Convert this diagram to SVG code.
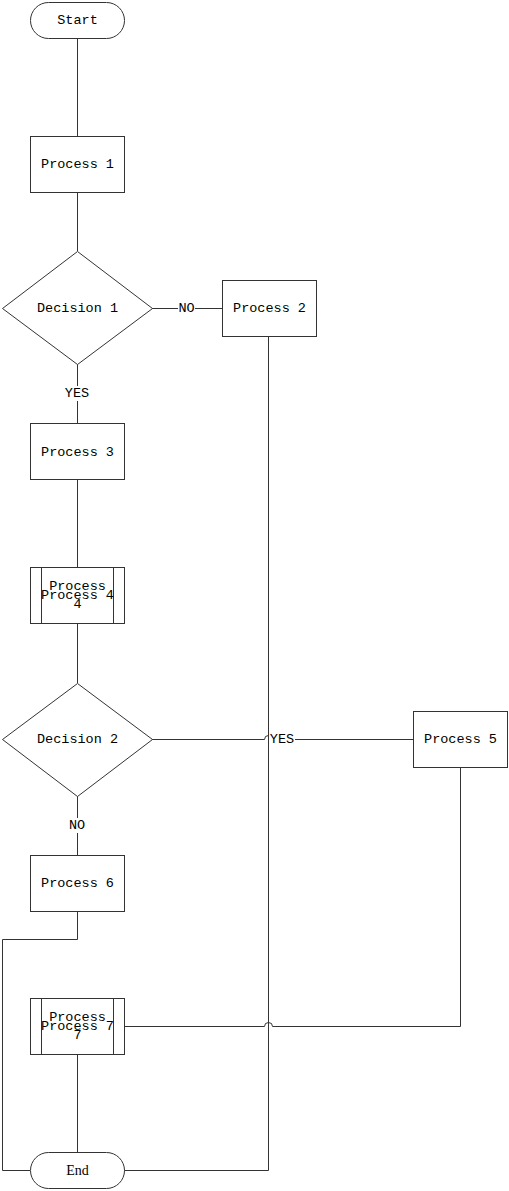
<svg xmlns="http://www.w3.org/2000/svg" width="509" height="1191" viewBox="0 0 509 1191">
  <style>
    .shape { fill: #ffffff; stroke: #333333; stroke-width: 1; }
    .edge { fill: none; stroke: #333333; stroke-width: 1; }
    .lbl { font-family: "Liberation Mono", "DejaVu Sans Mono", monospace; font-size: 13.5px; fill: #000000; text-anchor: middle; dominant-baseline: central; }
    .serif { font-family: "Liberation Serif", serif; font-size: 14px; }
    .bg { fill: #ffffff; stroke: none; }
  </style>
  <rect width="509" height="1191" fill="#ffffff"/>

  <!-- connectors -->
  <g id="connectors">
    <path class="edge" d="M77.5 38 V136"/>
    <path class="edge" d="M77.5 192 V251"/>
    <path class="edge" d="M152 308.5 H222"/>
    <path class="edge" d="M268.5 336 V1170.5 H124"/>
    <path class="edge" d="M77.5 364 V423"/>
    <path class="edge" d="M77.5 480 V567"/>
    <path class="edge" d="M77.5 623 V683"/>
    <path class="edge" d="M152 739.5 H264.5 A4 4 0 0 1 272.5 739.5 H413"/>
    <path class="edge" d="M460.5 767 V1026.5 H272.5 A4 4 0 0 0 264.5 1026.5 H124"/>
    <path class="edge" d="M77.5 796 V855"/>
    <path class="edge" d="M77.5 911 V939.5 H2.5 V1170.5 H30"/>
    <path class="edge" d="M77.5 1054 V1152"/>
    <!-- edge labels -->
    <rect class="bg" x="178" y="301" width="17" height="15"/>
    <text class="lbl" x="186.5" y="308.5">NO</text>
    <rect class="bg" x="64" y="386" width="26" height="15"/>
    <text class="lbl" x="77" y="393.5">YES</text>
    <rect class="bg" x="269" y="732" width="26" height="15"/>
    <text class="lbl" x="282" y="739.5">YES</text>
    <rect class="bg" x="68" y="818" width="17" height="15"/>
    <text class="lbl" x="77" y="825.5">NO</text>
  </g>

  <g id="start">
    <rect class="shape" x="30.5" y="2.5" width="94" height="36" rx="18" ry="18"/>
    <text class="lbl" x="77.5" y="20.5">Start</text>
  </g>

  <g id="process1">
    <rect class="shape" x="30.5" y="136.5" width="94" height="56"/>
    <text class="lbl" x="77.5" y="164.5">Process 1</text>
  </g>

  <g id="decision1">
    <polygon class="shape" points="77.5,251.5 152.5,308.5 77.5,364.5 2.5,308.5"/>
    <text class="lbl" x="77.5" y="308.5">Decision 1</text>
  </g>

  <g id="process2">
    <rect class="shape" x="222.5" y="280.5" width="94" height="56"/>
    <text class="lbl" x="269.5" y="308.5">Process 2</text>
  </g>

  <g id="process3">
    <rect class="shape" x="30.5" y="423.5" width="94" height="56"/>
    <text class="lbl" x="77.5" y="452">Process 3</text>
  </g>

  <g id="process4">
    <rect class="shape" x="30.5" y="567.5" width="94" height="56"/>
    <path class="edge" d="M41.5 567.5 V623.5 M113.5 567.5 V623.5"/>
    <text class="lbl" x="77.5" y="586">Process</text>
    <text class="lbl" x="77.5" y="604">4</text>
    <text class="lbl" x="77.5" y="595.5">Process 4</text>
  </g>

  <g id="decision2">
    <polygon class="shape" points="77.5,683.5 152.5,739.5 77.5,796.5 2.5,739.5"/>
    <text class="lbl" x="77.5" y="739.5">Decision 2</text>
  </g>

  <g id="process5">
    <rect class="shape" x="413.5" y="711.5" width="94" height="56"/>
    <text class="lbl" x="460.5" y="739.5">Process 5</text>
  </g>

  <g id="process6">
    <rect class="shape" x="30.5" y="855.5" width="94" height="56"/>
    <text class="lbl" x="77.5" y="883.5">Process 6</text>
  </g>

  <g id="process7">
    <rect class="shape" x="30.5" y="998.5" width="94" height="56"/>
    <path class="edge" d="M41.5 998.5 V1054.5 M113.5 998.5 V1054.5"/>
    <text class="lbl" x="77.5" y="1017">Process</text>
    <text class="lbl" x="77.5" y="1035">7</text>
    <text class="lbl" x="77.5" y="1026.5">Process 7</text>
  </g>

  <g id="end">
    <rect class="shape" x="30.5" y="1152.5" width="94" height="36" rx="18" ry="18"/>
    <text class="lbl serif" x="77.5" y="1170.5">End</text>
  </g>
</svg>
